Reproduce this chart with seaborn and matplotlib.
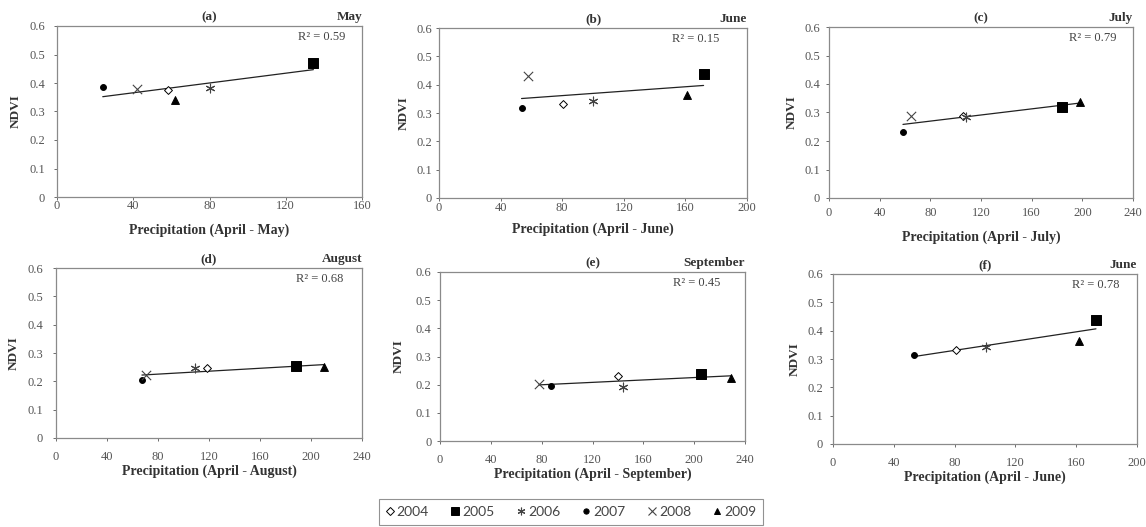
import numpy as np
import pandas as pd
import matplotlib
matplotlib.use("Agg")
import matplotlib.pyplot as plt
import seaborn as sns
from matplotlib.lines import Line2D

years = ["2004", "2005", "2006", "2007", "2008", "2009"]

# panel (a) May
a_x = [58, 134.5, 80, 24, 42, 62]
a_y = [0.375, 0.471, 0.383, 0.385, 0.378, 0.340]
# panel (b) June
b_x = [80.7, 171.8, 100.2, 53.6, 58, 161]
b_y = [0.331, 0.438, 0.343, 0.317, 0.432, 0.364]
# panel (c) July
c_x = [106, 184, 108, 58.4, 64.5, 198]
c_y = [0.287, 0.318, 0.284, 0.232, 0.288, 0.338]
# panel (d) August
d_x = [118.6, 188, 109.4, 67.4, 70.6, 210]
d_y = [0.247, 0.253, 0.247, 0.204, 0.224, 0.251]
# panel (e) September
e_x = [140, 205, 144, 87.4, 78, 229]
e_y = [0.231, 0.237, 0.193, 0.197, 0.202, 0.224]
# panel (f) June without 2008
f_years = ["2004", "2005", "2006", "2007", "2009"]
f_x = [80.6, 173, 100.4, 53.6, 162]
f_y = [0.331, 0.438, 0.342, 0.315, 0.365]

panel_letters = ["(a)", "(b)", "(c)", "(d)", "(e)", "(f)"]
months = ["May", "June", "July", "August", "September", "June"]
xlabels = ["Precipitation (April - May)", "Precipitation (April - June)",
           "Precipitation (April - July)", "Precipitation (April - August)",
           "Precipitation (April - September)", "Precipitation (April - June)"]
r2_values = ["0.59", "0.15", "0.79", "0.68", "0.45", "0.78"]
xmax = [160, 200, 240, 240, 240, 200]

panels = [(years, a_x, a_y), (years, b_x, b_y), (years, c_x, c_y),
          (years, d_x, d_y), (years, e_x, e_y), (f_years, f_x, f_y)]

# layout (pixels / points), per panel
boxes_px = [(57, 362, 26, 197), (439, 747, 28, 198), (829, 1133, 27, 198),
            (56, 362, 268, 438), (440, 745, 272, 441), (833, 1137, 274, 444)]
xtick_pad = [0.2, 0.7, 4.3, 7.2, 7.2, 7.2]
xlab_pad = [7.9, 6.3, 8.4, 1.3, 1.0, 1.3]
ytick_pad = [6.6, 3.0, 4.5, 7.3, 4.0, 5.2]
ylab_pad = [5.8, 5.0, 5.0, 5.8, 8.0, 5.0]
r2_xpos = [0.944, 0.91, 0.947, 0.94, 0.92, 0.944]

sns.set_style("white")
plt.rcParams['font.family'] = ['Liberation Serif', 'DejaVu Serif']

W, H = 1146, 527
fig = plt.figure(figsize=(W / 100, H / 100), dpi=100)

markers = {"2004": "D", "2005": "s", "2006": (6, 2, 0), "2007": "o", "2008": "x", "2009": "^"}
sizes_m = {"2004": 16, "2005": 42, "2006": 40, "2007": 18, "2008": 45, "2009": 32}
facec = {"2004": "white", "2005": "black", "2006": "black", "2007": "black", "2008": "black", "2009": "black"}

tick_color = "#555555"
spine_color = "#8a8a8a"
text_color = "#333333"

for i, ((yrs, xs, ys), (l, r, t, b)) in enumerate(zip(panels, boxes_px)):
    ax = fig.add_axes([l / W, 1 - b / H, (r - l) / W, (b - t) / H])
    df = pd.DataFrame({"year": yrs, "precip": xs, "ndvi": ys})
    sns.regplot(data=df, x="precip", y="ndvi", scatter=False, ci=None, ax=ax,
                line_kws=dict(color="#222222", lw=0.9))
    for yr in yrs:
        sub = df[df.year == yr]
        m = markers[yr]
        if yr in ("2006", "2008"):
            sns.scatterplot(data=sub, x="precip", y="ndvi", marker=m, s=sizes_m[yr],
                            color="#444444", linewidth=0.8, ax=ax, zorder=3)
        else:
            sns.scatterplot(data=sub, x="precip", y="ndvi", marker=m, s=sizes_m[yr],
                            facecolor=facec[yr], edgecolor="black", linewidth=0.7,
                            ax=ax, zorder=3)
    ax.set_xlim(0, xmax[i])
    ax.set_ylim(0, 0.6)
    ax.set_xticks(np.arange(0, xmax[i] + 1, 40))
    ax.set_yticks(np.arange(0, 0.61, 0.1))
    ax.set_yticklabels(["0", "0.1", "0.2", "0.3", "0.4", "0.5", "0.6"])
    ax.tick_params(axis="both", labelsize=9, colors=tick_color, length=2, width=0.6,
                   direction="out", bottom=True, left=True)
    ax.tick_params(axis="x", pad=xtick_pad[i])
    ax.tick_params(axis="y", pad=ytick_pad[i])
    for s in ax.spines.values():
        s.set_color(spine_color)
        s.set_linewidth(0.9)
    ax.set_xlabel(xlabels[i], fontsize=10, fontweight="bold", color=text_color,
                  labelpad=xlab_pad[i])
    ax.set_ylabel("NDVI", fontsize=9.5, fontweight="bold", color=text_color,
                  labelpad=ylab_pad[i])
    ax.text(0.5, 1.015, panel_letters[i], transform=ax.transAxes, ha="center", va="bottom",
            fontsize=9.5, fontweight="bold", color=text_color)
    ax.text(1.0, 1.015, months[i], transform=ax.transAxes, ha="right", va="bottom",
            fontsize=9.5, fontweight="bold", color=text_color)
    ax.text(r2_xpos[i], 0.935, "R² = " + r2_values[i], transform=ax.transAxes, ha="right",
            va="center", fontsize=9, color="#444444")

# legend
handles = []
for yr in years:
    m = markers[yr]
    if yr in ("2006", "2008"):
        h = Line2D([], [], ls="none", marker=m, markersize=5.5, color="#444444", mew=0.8)
    else:
        ms = {"2004": 4, "2005": 5.5, "2007": 3.8, "2009": 5}[yr]
        h = Line2D([], [], ls="none", marker=m, markersize=ms, markerfacecolor=facec[yr],
                   markeredgecolor="black", mew=0.7)
    handles.append(h)
leg = fig.legend(handles, years, loc="center", bbox_to_anchor=(571 / W, 1 - 512 / H),
                 ncol=6, frameon=True, fancybox=False, handletextpad=0.2,
                 columnspacing=1.6, handlelength=0.6, borderpad=0.5,
                 prop={"family": "Lato", "size": 10})
leg.get_frame().set_edgecolor("#777777")
leg.get_frame().set_linewidth(0.8)
for txt in leg.get_texts():
    txt.set_color("#444444")

fig.savefig("out.png", dpi=100)
